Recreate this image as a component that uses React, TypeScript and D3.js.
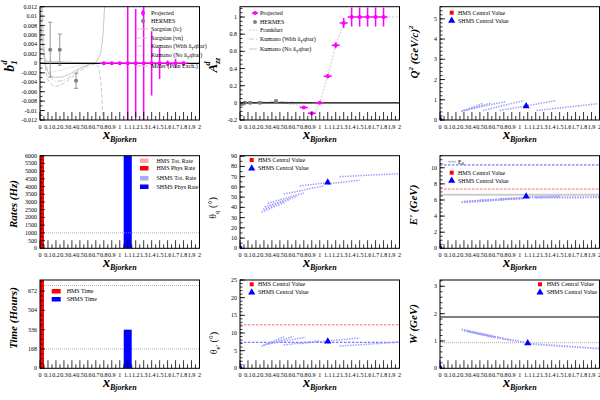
import React from "react";
import * as d3 from "d3";

const FONT = "'Liberation Serif', 'Times New Roman', serif";

// ---------- shared x axis ----------
const xTickValues = [0, 0.1, 0.2, 0.3, 0.4, 0.5, 0.6, 0.7, 0.8, 0.9, 1, 1.1, 1.2, 1.3, 1.4, 1.5, 1.6, 1.7, 1.8, 1.9, 2];
const xTickLabels = ["0", "0.1", "0.2", "0.3", "0.4", "0.5", "0.6", "0.7", "0.8", "0.9", "1", "1.1", "1.2", "1.3", "1.4", "1.5", "1.6", "1.7", "1.8", "1.9", "2"];

// ---------- panel 1: b1 ----------
const b1X = [0.8, 0.9, 1.0, 1.1, 1.2, 1.3, 1.4, 1.5, 1.6, 1.7, 1.8];
const b1Y = [0, 0, 0, 0, 0, 0, 0, 0, 0, 0, 0];
const b1Err = [0.0002, 0.0002, 0.0002, 0.03, 0.0115, 0.03, 0.0068, 0.0033, 0.0006, 0.001, 0.0004];
const hermesB1X = [0.128, 0.248, 0.452];
const hermesB1Y = [0.0029, 0.0029, -0.0037];
const hermesB1Err = [0.0058, 0.0033, 0.0016];
const sargsianLc: [number, number][] = [[0.005, 0.012], [0.02, 0.006], [0.04, 0.002], [0.07, -0.0005], [0.1, -0.0018], [0.15, -0.0028], [0.2, -0.003], [0.3, -0.0028], [0.4, -0.002], [0.5, -0.001], [0.6, -0.0003], [0.7, 0.0002], [0.76, 0.002], [0.79, 0.006], [0.81, 0.012]];
const sargsianVn: [number, number][] = [[0.02, 0.012], [0.04, 0.004], [0.07, -0.0015], [0.1, -0.0035], [0.15, -0.0046], [0.2, -0.0049], [0.25, -0.0047], [0.3, -0.0042], [0.4, -0.003], [0.5, -0.0016], [0.6, -0.0006], [0.7, -0.0001], [0.74, -0.001], [0.77, -0.005], [0.79, -0.012]];
const kumanoB1With: [number, number][] = [[0.03, 0.012], [0.05, 0.004], [0.08, -0.0005], [0.12, -0.0025], [0.2, -0.0038], [0.3, -0.0036], [0.4, -0.0025], [0.5, -0.0013], [0.6, -0.0004], [0.7, 0], [0.9, 0]];
const kumanoB1No: [number, number][] = [[0.01, -0.0025], [0.05, -0.0022], [0.1, -0.002], [0.2, -0.0017], [0.3, -0.0013], [0.4, -0.0008], [0.5, -0.0004], [0.7, 0], [0.9, 0]];
const millerB1: [number, number][] = [[0.05, 0.0005], [0.3, 0.0003], [0.6, 0.0001], [0.9, 0]];
const b1YTicks = [-0.012, -0.01, -0.008, -0.006, -0.004, -0.002, 0, 0.002, 0.004, 0.006, 0.008, 0.01, 0.012];
const b1YLabels = ["-0.012", "-0.01", "-0.008", "-0.006", "-0.004", "-0.002", "0", "0.002", "0.004", "0.006", "0.008", "0.01", "0.012"];

// ---------- panel 2: Azz ----------
const azzX = [0.8, 0.9, 1.0, 1.1, 1.2, 1.3, 1.4, 1.5, 1.6, 1.7, 1.8];
const azzY = [-0.054, -0.12, 0.0, 0.31, 0.67, 0.93, 1.0, 1.0, 1.0, 1.0, 1.0];
const azzErr = [0.012, 0.02, 0.012, 0.025, 0.035, 0.06, 0.11, 0.11, 0.11, 0.11, 0.11];
const hermesAzzX = [0.012, 0.032, 0.063, 0.128, 0.248, 0.452];
const hermesAzzY = [-0.01, -0.012, 0.0, 0.0, 0.0, 0.02];
const hermesAzzErr = [0.01, 0.01, 0.008, 0.01, 0.01, 0.012];
const frankfurt: [number, number][] = [[0, 0], [0.5, 0], [0.7, -0.02], [0.8, -0.054], [0.9, -0.13], [0.95, -0.1], [1.0, 0], [1.1, 0.31], [1.2, 0.67], [1.3, 0.93], [1.35, 1.0], [2.0, 1.0]];
const kumanoAzzWith: [number, number][] = [[0, -0.01], [0.1, 0.0], [0.3, 0.01], [0.45, 0.015], [0.6, 0.01], [0.8, 0.003], [0.9, 0]];
const kumanoAzzNo: [number, number][] = [[0, -0.005], [0.2, 0.002], [0.45, 0.006], [0.7, 0.003], [0.9, 0]];
const azzYTicks = [-0.2, 0, 0.2, 0.4, 0.6, 0.8, 1];
const azzYLabels = ["-0.2", "0", "0.2", "0.4", "0.6", "0.8", "1"];

// ---------- panel 3: Q2 ----------
const q2Scans: [number, number][][] = [
  [[0.27, 0.42], [0.54, 0.83]],
  [[0.27, 0.42], [0.63, 0.83]],
  [[0.29, 0.47], [0.82, 0.91]],
  [[0.54, 0.47], [1.05, 0.96]],
  [[0.75, 0.47], [1.46, 0.96]],
  [[1.21, 0.47], [1.97, 0.8]],
];
const q2Shms = [1.08, 0.68];
const q2YTicks = [0, 1, 2, 3, 4, 5];

// ---------- panel 4: rates ----------
const rateCenters = [0, 1.1];
const hmsTotRate = [9000, 0];
const hmsPhysRate = [8000, 0];
const shmsTotRate = [0, 9000];
const shmsPhysRate = [0, 8000];
const rateRef = 1000;
const rateYTicks = [0, 500, 1000, 1500, 2000, 2500, 3000, 3500, 4000, 4500, 5000, 5500, 6000];

// ---------- panel 5: theta_q ----------
const thqScans: [number, number][][] = [
  [[0.27, 35.5], [0.57, 45]],
  [[0.29, 38], [0.63, 48]],
  [[0.31, 40.5], [0.72, 51]],
  [[0.35, 44], [0.8, 54]],
  [[0.55, 53], [1.05, 61]],
  [[0.75, 61], [1.08, 64]],
  [[1.1, 63], [1.5, 66.5]],
  [[1.25, 70], [2.0, 73]],
];
const thqShms = [1.1, 64.5];
const thqYTicks = [0, 10, 20, 30, 40, 50, 60, 70, 80, 90];

// ---------- panel 6: E' ----------
const epScans: [number, number][][] = [
  [[0.27, 5.72], [0.62, 5.95]],
  [[0.3, 5.8], [0.8, 6.05]],
  [[0.5, 5.95], [1.05, 6.2]],
  [[0.75, 6.1], [1.05, 6.25]],
  [[1.12, 6.35], [1.5, 6.45]],
  [[1.2, 6.3], [2.0, 6.35]],
];
const epShms = [1.08, 6.45];
const epBeam = 6.65;
const epHmsLine = 7.36;
const epShmsLine = 10.35;
const epYTicks = [0, 2, 4, 6, 8, 10];

// ---------- panel 7: time ----------
const hmsTime = [900, 0];
const shmsTime = [0, 336];
const timeRefs = [168, 720];
const timeYTicks = [0, 168, 336, 504, 672];

// ---------- panel 8: theta_e ----------
const theScans: [number, number][][] = [
  [[0.27, 6.2], [0.55, 9.0]],
  [[0.29, 6.5], [0.67, 9.0]],
  [[0.33, 6.8], [0.82, 8.8]],
  [[0.55, 6.6], [1.0, 7.8]],
  [[0.75, 7.0], [1.5, 8.6]],
  [[1.25, 6.3], [2.0, 7.4]],
];
const theShms = [1.1, 7.6];
const theHmsLine = 12.3;
const theShmsLine = 7.36;
const theYTicks = [0, 5, 10, 15, 20, 25];

// ---------- panel 9: W ----------
const wScans: [number, number][][] = [
  [[0.27, 1.42], [0.5, 1.28], [0.8, 1.08], [1.05, 0.96]],
  [[0.3, 1.38], [0.6, 1.2], [0.9, 1.02]],
  [[0.35, 1.35], [0.7, 1.12]],
  [[1.1, 0.9], [1.5, 0.82], [2.0, 0.72]],
];
const wShms = [1.1, 0.92];
const wDeuteron = 1.876;
const wProton = 0.938;
const wYTicks = [0, 1, 2, 3];

// ---------- colours ----------
const MAGENTA = "#ff00ff";
const HGRAY = "#808080";
const CURVE = "#c8c8c8";
const LBLUE = "#9a9aff";
const BLUE = "#0000ff";
const RED = "#ff0000";

type Scale = d3.ScaleLinear<number, number>;

const COLS = [40, 240, 440];
const PW = 159.5;
const ROWS = [
  { top: 6.7, h: 113.3 },
  { top: 155.7, h: 92.6 },
  { top: 280, h: 88.3 },
];

interface PanelProps {
  id: string;
  col: number;
  row: number;
  yDomain: [number, number];
  yTicks: number[];
  yLabels?: string[];
  yMinorStep: number;
  draw: (x: Scale, y: Scale) => React.ReactNode;
  over?: (x: Scale, y: Scale) => React.ReactNode;
}

function Panel({ id, col, row, yDomain, yTicks, yLabels, yMinorStep, draw, over }: PanelProps) {
  const left = COLS[col];
  const { top, h } = ROWS[row];
  const bottom = top + h;
  const right = left + PW;
  const x = d3.scaleLinear().domain([0, 2]).range([left, right]);
  const y = d3.scaleLinear().domain(yDomain).range([bottom, top]);
  const xMinor = d3.range(0.05, 2, 0.1);
  const yMinor = d3.range(Math.ceil(yDomain[0] / yMinorStep) * yMinorStep, yDomain[1] + 1e-9, yMinorStep);
  const labels = yLabels ?? yTicks.map((t) => String(t));
  return (
    <g>
      <defs>
        <clipPath id={id}>
          <rect x={left} y={top} width={PW} height={h} />
        </clipPath>
      </defs>
      <g clipPath={`url(#${id})`}>{draw(x, y)}</g>
      {/* x ticks */}
      {xTickValues.map((t, i) => (
        <line key={"xt" + i} x1={x(t)} x2={x(t)} y1={bottom} y2={bottom - 8} stroke="#000" strokeWidth={0.8} />
      ))}
      {xMinor.map((t, i) => (
        <line key={"xm" + i} x1={x(t)} x2={x(t)} y1={bottom} y2={bottom - 4} stroke="#000" strokeWidth={0.8} />
      ))}
      {xTickValues.map((t, i) => (
        <text key={"xl" + i} x={x(t)} y={bottom + 8.5} fontSize={6} textAnchor="middle" fontFamily={FONT}>
          {xTickLabels[i]}
        </text>
      ))}
      {/* y ticks */}
      {yTicks.map((t, i) => (
        <line key={"yt" + i} x1={left} x2={left + 5} y1={y(t)} y2={y(t)} stroke="#000" strokeWidth={0.8} />
      ))}
      {yMinor.map((t, i) => (
        <line key={"ym" + i} x1={left} x2={left + 2.5} y1={y(t)} y2={y(t)} stroke="#000" strokeWidth={0.8} />
      ))}
      {yTicks.map((t, i) => (
        <text key={"yl" + i} x={left - 3} y={y(t) + 2} fontSize={6} textAnchor="end" fontFamily={FONT}>
          {labels[i]}
        </text>
      ))}
      <rect x={left} y={top} width={PW} height={h} fill="none" stroke="#000" strokeWidth={1} />
      {over && over(x, y)}
      <XTitle cx={(left + right) / 2} baseline={bottom + 19} />
    </g>
  );
}

function XTitle({ cx, baseline }: { cx: number; baseline: number }) {
  return (
    <text x={cx} y={baseline} textAnchor="middle" fontFamily={FONT} fontWeight="bold" fontStyle="italic">
      <tspan fontSize={14}>x</tspan>
      <tspan fontSize={8} dy={3}>Bjorken</tspan>
    </text>
  );
}

function YTitle({ x, cy, children, size = 11, bold = true, italic = true }: any) {
  return (
    <text
      transform={`translate(${x},${cy}) rotate(-90)`}
      textAnchor="middle"
      fontFamily={FONT}
      fontSize={size}
      fontWeight={bold ? "bold" : "normal"}
      fontStyle={italic ? "italic" : "normal"}
    >
      {children}
    </text>
  );
}

const lineGen = (x: Scale, y: Scale) =>
  d3
    .line<[number, number]>()
    .x((d) => x(d[0]))
    .y((d) => y(d[1]))
    .curve(d3.curveMonotoneX);

const straightGen = (x: Scale, y: Scale) =>
  d3
    .line<[number, number]>()
    .x((d) => x(d[0]))
    .y((d) => y(d[1]));

function Triangle({ cx, cy, s = 5, fill = BLUE }: any) {
  const p = d3.symbol().type(d3.symbolTriangle).size(s * s * 0.9)();
  return <path d={p || ""} transform={`translate(${cx},${cy})`} fill={fill} />;
}
function Square({ cx, cy, s = 4, fill = RED }: any) {
  return <rect x={cx - s / 2} y={cy - s / 2} width={s} height={s} fill={fill} />;
}

function LegText({ x, y, children }: any) {
  return (
    <text x={x} y={y + 2} fontSize={6} fontFamily={FONT}>
      {children}
    </text>
  );
}

function Scans({ x, y, scans, width = 1.5 }: any) {
  const g = straightGen(x, y);
  return (
    <g>
      {scans.map((s: [number, number][], i: number) => (
        <path key={i} d={g(s) || ""} fill="none" stroke={LBLUE} strokeWidth={width} strokeDasharray="1.4 1.2" />
      ))}
    </g>
  );
}

function CentralLegend({ mx, tx, y1, y2 }: any) {
  return (
    <g>
      <Square cx={mx} cy={y1} />
      <LegText x={tx} y={y1}>HMS Central Value</LegText>
      <Triangle cx={mx} cy={y2} />
      <LegText x={tx} y={y2}>SHMS Central Value</LegText>
    </g>
  );
}

function Origin({ x, y }: any) {
  return (
    <g>
      <Square cx={x(0)} cy={y(0)} />
      <Triangle cx={x(0)} cy={y(0) - 0.5} />
    </g>
  );
}

function ProjPoints({ x, y, xs, ys, errs }: any) {
  return (
    <g>
      {xs.map((xv: number, i: number) => (
        <g key={i}>
          <line x1={x(xv - 0.05)} x2={x(xv + 0.05)} y1={y(ys[i])} y2={y(ys[i])} stroke={MAGENTA} strokeWidth={1.5} />
          <line x1={x(xv)} x2={x(xv)} y1={y(ys[i] - errs[i])} y2={y(ys[i] + errs[i])} stroke={MAGENTA} strokeWidth={1.5} />
          <circle cx={x(xv)} cy={y(ys[i])} r={2} fill={MAGENTA} />
        </g>
      ))}
    </g>
  );
}

function HermesPoints({ x, y, xs, ys, errs }: any) {
  return (
    <g>
      {xs.map((xv: number, i: number) => (
        <g key={i}>
          <line x1={x(xv)} x2={x(xv)} y1={y(ys[i] - errs[i])} y2={y(ys[i] + errs[i])} stroke={HGRAY} strokeWidth={0.8} />
          <line x1={x(xv) - 2} x2={x(xv) + 2} y1={y(ys[i] - errs[i])} y2={y(ys[i] - errs[i])} stroke={HGRAY} strokeWidth={0.8} />
          <line x1={x(xv) - 2} x2={x(xv) + 2} y1={y(ys[i] + errs[i])} y2={y(ys[i] + errs[i])} stroke={HGRAY} strokeWidth={0.8} />
          <circle cx={x(xv)} cy={y(ys[i])} r={2} fill={HGRAY} />
        </g>
      ))}
    </g>
  );
}

function Bars({ x, y, centers, values, color }: any) {
  return (
    <g>
      {centers.map((c: number, i: number) =>
        values[i] > 0 ? (
          <rect key={i} x={x(c - 0.05)} width={x(c + 0.05) - x(c - 0.05)} y={y(values[i])} height={y(0) - y(values[i])} fill={color} />
        ) : null
      )}
    </g>
  );
}

function HLine({ x, y, v, color, dash, width = 1 }: any) {
  return <line x1={x(0)} x2={x(2)} y1={y(v)} y2={y(v)} stroke={color} strokeWidth={width} strokeDasharray={dash} />;
}

export default function App() {
  return (
    <svg width={600} height={400} style={{ position: "absolute", left: 0, top: 0, background: "#fff" }} fontFamily={FONT}>
      <rect x={0} y={0} width={600} height={400} fill="#fff" />

      {/* Panel 1: b1 */}
      <Panel
        id="c1"
        col={0}
        row={0}
        yDomain={[-0.012, 0.012]}
        yTicks={b1YTicks}
        yLabels={b1YLabels}
        yMinorStep={0.001}
        draw={(x, y) => {
          const g = lineGen(x, y);
          const s = straightGen(x, y);
          return (
            <g>
              <path d={s(sargsianLc) || ""} fill="none" stroke={CURVE} strokeWidth={1} />
              <path d={s(sargsianVn) || ""} fill="none" stroke={CURVE} strokeWidth={1} strokeDasharray="4 2" />
              <path d={g(kumanoB1With) || ""} fill="none" stroke={CURVE} strokeWidth={1} strokeDasharray="5 2 1 2" />
              <path d={g(kumanoB1No) || ""} fill="none" stroke={CURVE} strokeWidth={1} strokeDasharray="1 1.5" />
              <path d={g(millerB1) || ""} fill="none" stroke={CURVE} strokeWidth={1} />
              <HLine x={x} y={y} v={0} color="#000" width={1.3} />
              <HermesPoints x={x} y={y} xs={hermesB1X} ys={hermesB1Y} errs={hermesB1Err} />
              <ProjPoints x={x} y={y} xs={b1X} ys={b1Y} errs={b1Err} />
            </g>
          );
        }}
        over={() => (
          <g>
            <line x1={143} x2={143} y1={10} y2={16} stroke={MAGENTA} strokeWidth={1.5} />
            <circle cx={143} cy={13} r={2} fill={MAGENTA} />
            <LegText x={151} y={13}>Projected</LegText>
            <line x1={143} x2={143} y1={18} y2={24} stroke={HGRAY} strokeWidth={0.8} />
            <circle cx={143} cy={21} r={2} fill={HGRAY} />
            <LegText x={151} y={21}>HERMES</LegText>
            <line x1={137} x2={148} y1={29} y2={29} stroke={CURVE} strokeWidth={1} />
            <LegText x={151} y={29}>Sargsian (lc)</LegText>
            <line x1={137} x2={148} y1={38} y2={38} stroke={CURVE} strokeWidth={1} strokeDasharray="4 2" />
            <LegText x={151} y={38}>Sargsian (vn)</LegText>
            <line x1={137} x2={148} y1={46} y2={46} stroke={CURVE} strokeWidth={1} strokeDasharray="5 2 1 2" />
            <LegText x={151} y={46}>
              Kumano (With δ<tspan fontSize={4.5} dy={1.5}>T</tspan>
              <tspan dy={-1.5}>qbar)</tspan>
            </LegText>
            <line x1={137} x2={148} y1={55} y2={55} stroke={CURVE} strokeWidth={1} strokeDasharray="1 1.5" />
            <LegText x={151} y={55}>
              Kumano (No δ<tspan fontSize={4.5} dy={1.5}>T</tspan>
              <tspan dy={-1.5}>qbar)</tspan>
            </LegText>
            <line x1={137} x2={148} y1={66} y2={66} stroke={CURVE} strokeWidth={1} />
            <LegText x={151} y={66}>Miller (Pion Exch.)</LegText>
          </g>
        )}
      />
      <YTitle x={14} cy={66} size={14}>
        b<tspan fontSize={9} dy={3}>1</tspan>
        <tspan fontSize={9} dx={-4.5} dy={-10}>d</tspan>
      </YTitle>

      {/* Panel 2: Azz */}
      <Panel
        id="c2"
        col={1}
        row={0}
        yDomain={[-0.2, 1.12]}
        yTicks={azzYTicks}
        yLabels={azzYLabels}
        yMinorStep={0.05}
        draw={(x, y) => {
          const s = straightGen(x, y);
          const g = lineGen(x, y);
          return (
            <g>
              <path d={g(kumanoAzzWith) || ""} fill="none" stroke={CURVE} strokeWidth={1} strokeDasharray="5 2 1 2" />
              <path d={g(kumanoAzzNo) || ""} fill="none" stroke={CURVE} strokeWidth={1} />
              <path d={s(frankfurt) || ""} fill="none" stroke={CURVE} strokeWidth={1} strokeDasharray="2 1.5" />
              <HLine x={x} y={y} v={0} color="#000" width={1.2} />
              <HermesPoints x={x} y={y} xs={hermesAzzX} ys={hermesAzzY} errs={hermesAzzErr} />
              <ProjPoints x={x} y={y} xs={azzX} ys={azzY} errs={azzErr} />
            </g>
          );
        }}
        over={() => (
          <g>
            <line x1={252} x2={258} y1={13} y2={13} stroke={MAGENTA} strokeWidth={1.5} />
            <circle cx={255} cy={13} r={2} fill={MAGENTA} />
            <LegText x={260} y={13}>Projected</LegText>
            <circle cx={255} cy={22} r={2} fill={HGRAY} />
            <LegText x={260} y={22}>HERMES</LegText>
            <line x1={249} x2={257} y1={30} y2={30} stroke={CURVE} strokeWidth={1} strokeDasharray="2 1.5" />
            <LegText x={260} y={30}>Frankfurt</LegText>
            <line x1={249} x2={257} y1={39} y2={39} stroke={CURVE} strokeWidth={1} strokeDasharray="5 2 1 2" />
            <LegText x={260} y={39}>
              Kumano (With δ<tspan fontSize={4.5} dy={1.5}>T</tspan>
              <tspan dy={-1.5}>qbar)</tspan>
            </LegText>
            <line x1={249} x2={257} y1={49} y2={49} stroke={CURVE} strokeWidth={1} />
            <LegText x={260} y={49}>
              Kumano (No δ<tspan fontSize={4.5} dy={1.5}>T</tspan>
              <tspan dy={-1.5}>qbar)</tspan>
            </LegText>
          </g>
        )}
      />
      <YTitle x={217} cy={65} size={13}>
        A<tspan fontSize={8} dy={3}>zz</tspan>
        <tspan fontSize={8} dx={-8} dy={-10}>d</tspan>
      </YTitle>

      {/* Panel 3: Q2 */}
      <Panel
        id="c3"
        col={2}
        row={0}
        yDomain={[0, 5.6]}
        yTicks={q2YTicks}
        yMinorStep={0.2}
        draw={(x, y) => (
          <g>
            <Scans x={x} y={y} scans={q2Scans} />
            <Triangle cx={x(q2Shms[0])} cy={y(q2Shms[1])} />
            <Origin x={x} y={y} />
          </g>
        )}
        over={() => <CentralLegend mx={451.7} tx={458} y1={12.7} y2={20.7} />}
      />
      <YTitle x={418} cy={52} size={11}>
        Q<tspan fontSize={7} dy={-5}>2</tspan>
        <tspan dy={5}> (GeV/c)</tspan>
        <tspan fontSize={7} dy={-5}>2</tspan>
      </YTitle>

      {/* Panel 4: Rates */}
      <Panel
        id="c4"
        col={0}
        row={1}
        yDomain={[0, 6000]}
        yTicks={rateYTicks}
        yMinorStep={250}
        draw={(x, y) => (
          <g>
            <Bars x={x} y={y} centers={rateCenters} values={hmsTotRate} color="#ffaaaa" />
            <Bars x={x} y={y} centers={rateCenters} values={hmsPhysRate} color={RED} />
            <Bars x={x} y={y} centers={rateCenters} values={shmsTotRate} color="#aaaaff" />
            <Bars x={x} y={y} centers={rateCenters} values={shmsPhysRate} color={BLUE} />
            <HLine x={x} y={y} v={rateRef} color="#999" dash="1 1" width={0.8} />
          </g>
        )}
        over={() => (
          <g>
            <rect x={140} y={158.5} width={8.5} height={4.5} fill="#ffaaaa" />
            <LegText x={156.5} y={160.7}>HMS Tot. Rate</LegText>
            <rect x={140} y={166} width={8.5} height={4.5} fill={RED} />
            <LegText x={156.5} y={168.3}>HMS Phys Rate</LegText>
            <rect x={140} y={176} width={8.5} height={4.5} fill="#aaaaff" />
            <LegText x={156.5} y={178.3}>SHMS Tot. Rate</LegText>
            <rect x={140} y={184.5} width={8.5} height={4.5} fill={BLUE} />
            <LegText x={156.5} y={186.7}>SHMS Phys Rate</LegText>
          </g>
        )}
      />
      <YTitle x={17} cy={204}>Rates (Hz)</YTitle>

      {/* Panel 5: theta_q */}
      <Panel
        id="c5"
        col={1}
        row={1}
        yDomain={[0, 90.5]}
        yTicks={thqYTicks}
        yMinorStep={5}
        draw={(x, y) => (
          <g>
            <Scans x={x} y={y} scans={thqScans} />
            <Triangle cx={x(thqShms[0])} cy={y(thqShms[1])} />
            <Origin x={x} y={y} />
          </g>
        )}
        over={() => <CentralLegend mx={251.7} tx={258} y1={160} y2={168.3} />}
      />
      <YTitle x={216} cy={208} size={10} bold={false} italic={false}>
        θ<tspan fontSize={7} dy={2.5}>q</tspan>
        <tspan dy={-2.5}> (°)</tspan>
      </YTitle>

      {/* Panel 6: E' */}
      <Panel
        id="c6"
        col={2}
        row={1}
        yDomain={[0, 11.5]}
        yTicks={epYTicks}
        yMinorStep={0.5}
        draw={(x, y) => (
          <g>
            <HLine x={x} y={y} v={epShmsLine} color="#5555ff" dash="2.5 1.5" width={1} />
            <HLine x={x} y={y} v={epHmsLine} color="#ff6666" dash="2.5 1.5" width={1} />
            <HLine x={x} y={y} v={epBeam} color="#cccccc" width={2} />
            <Scans x={x} y={y} scans={epScans} width={2.2} />
            <Triangle cx={x(epShms[0])} cy={y(epShms[1])} />
            <Origin x={x} y={y} />
          </g>
        )}
        over={() => (
          <g>
            <line x1={448} x2={456} y1={161.7} y2={161.7} stroke="#cccccc" strokeWidth={2} />
            <LegText x={458} y={161.7}>
              E<tspan fontSize={4.5} dy={1.5}>0</tspan>
            </LegText>
            <CentralLegend mx={451.7} tx={458} y1={172.7} y2={180.7} />
          </g>
        )}
      />
      <YTitle x={417} cy={205}>E' (GeV)</YTitle>

      {/* Panel 7: Time */}
      <Panel
        id="c7"
        col={0}
        row={2}
        yDomain={[0, 768]}
        yTicks={timeYTicks}
        yMinorStep={42}
        draw={(x, y) => (
          <g>
            {timeRefs.map((v, i) => (
              <HLine key={i} x={x} y={y} v={v} color="#999" dash="1 1" width={0.8} />
            ))}
            <Bars x={x} y={y} centers={rateCenters} values={hmsTime} color={RED} />
            <Bars x={x} y={y} centers={rateCenters} values={shmsTime} color={BLUE} />
          </g>
        )}
        over={() => (
          <g>
            <rect x={51.7} y={289} width={9} height={4.5} fill={RED} />
            <LegText x={66.7} y={291}>HMS Time</LegText>
            <rect x={51.7} y={297} width={9} height={4.5} fill={BLUE} />
            <LegText x={66.7} y={299}>SHMS Time</LegText>
          </g>
        )}
      />
      <YTitle x={17} cy={318}>Time (Hours)</YTitle>

      {/* Panel 8: theta_e */}
      <Panel
        id="c8"
        col={1}
        row={2}
        yDomain={[0, 25]}
        yTicks={theYTicks}
        yMinorStep={1}
        draw={(x, y) => (
          <g>
            <HLine x={x} y={y} v={theHmsLine} color="#ff6666" dash="2.5 1.5" width={1} />
            <HLine x={x} y={y} v={theShmsLine} color="#5555ff" dash="2.5 1.5" width={1} />
            <Scans x={x} y={y} scans={theScans} />
            <Triangle cx={x(theShms[0])} cy={y(theShms[1])} />
            <Origin x={x} y={y} />
          </g>
        )}
        over={() => <CentralLegend mx={251.7} tx={258} y1={284.3} y2={292.3} />}
      />
      <YTitle x={217} cy={343} size={10} bold={false} italic={false}>
        θ<tspan fontSize={7} dy={2.5}>e'</tspan>
        <tspan dy={-2.5}> (°)</tspan>
      </YTitle>

      {/* Panel 9: W */}
      <Panel
        id="c9"
        col={2}
        row={2}
        yDomain={[0, 3.23]}
        yTicks={wYTicks}
        yMinorStep={0.2}
        draw={(x, y) => (
          <g>
            <HLine x={x} y={y} v={wDeuteron} color="#000" width={1} />
            <HLine x={x} y={y} v={wProton} color="#999" dash="1 1" width={0.8} />
            <Scans x={x} y={y} scans={wScans} width={2} />
            <Triangle cx={x(wShms[0])} cy={y(wShms[1])} />
            <Origin x={x} y={y} />
          </g>
        )}
        over={() => <CentralLegend mx={540} tx={546.7} y1={284.3} y2={292.3} />}
      />
      <YTitle x={417} cy={324}>W (GeV)</YTitle>
    </svg>
  );
}
